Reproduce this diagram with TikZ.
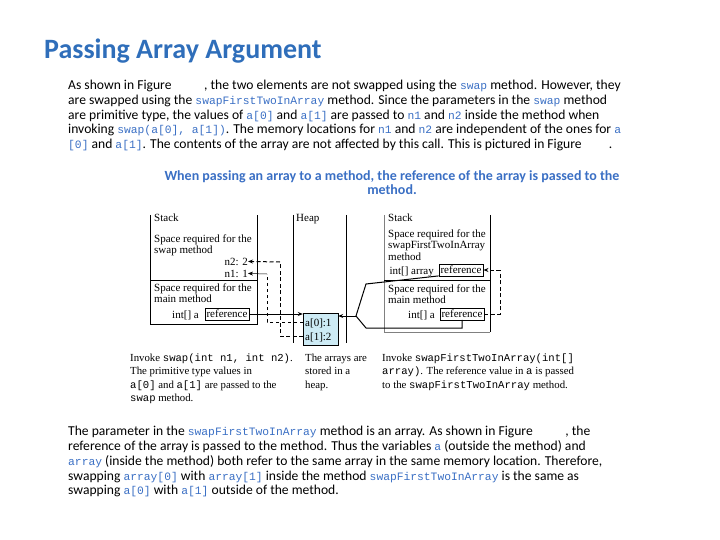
\documentclass[tikz,border=0pt]{standalone}
\usepackage{fontspec}
\usetikzlibrary{arrows.meta}
\setmainfont{Carlito}
\newfontfamily\serif{Liberation Serif}
\setmonofont{Liberation Mono}
\definecolor{titleblue}{HTML}{2F6EBA}
\definecolor{codeblue}{HTML}{3A6FC4}
\definecolor{heapfill}{HTML}{CDEBF5}
\newcommand{\cd}[1]{\textcolor{codeblue}{\ttfamily\fontsize{11.3}{13}\selectfont #1}}
\newcommand{\mn}[1]{{\ttfamily\fontsize{10.6}{12}\selectfont #1}}
\begin{document}
\begin{tikzpicture}[x=1pt,y=-1pt,
  para/.style={anchor=base west,inner sep=0,font=\fontsize{13.6}{15}\selectfont},
  dg/.style={anchor=base west,inner sep=0,font=\serif\fontsize{11}{12}\selectfont},
  captext/.style={anchor=base west,inner sep=0,font=\serif\fontsize{10.8}{12}\selectfont},
  refbox/.style={draw,inner sep=1.8pt,font=\serif\fontsize{11}{12}\selectfont},
  wall/.style={line width=0.6pt},
  dsh/.style={dashed,line width=1pt,dash pattern=on 4pt off 2.5pt},
  arr/.style={-{Stealth[length=5pt,width=4pt]}}]
\useasboundingbox (0,0) rectangle (720,540);
\node[anchor=base west,inner sep=0,font=\bfseries\fontsize{28}{30}\selectfont,text=titleblue] (title) at (44,59) {Passing Array Argument};
% top paragraph
\node[para] (p1) at (68,90) {As shown in Figure\hspace{2.4em}, the two elements are not swapped using the \cd{swap} method. However, they};
\node[para] (p2) at (68,105) {are swapped using the \cd{swapFirstTwoInArray} method. Since the parameters in the \cd{swap} method};
\node[para] (p3) at (68,120) {are primitive type, the values of \cd{a[0]} and \cd{a[1]} are passed to \cd{n1} and \cd{n2} inside the method when};
\node[para] (p4) at (68,134) {invoking \cd{swap(a[0], a[1])}. The memory locations for \cd{n1} and \cd{n2} are independent of the ones for \cd{a}};
\node[para] (p5) at (68,149) {\cd{[0]} and \cd{a[1]}. The contents of the array are not affected by this call. This is pictured in Figure\hspace{2em}.};
\node[anchor=base,inner sep=0,font=\bfseries\fontsize{14}{14}\selectfont,text=codeblue,align=center] (capt) at (392,195) {When passing an array to a method, the reference of the array is passed to the\\method.};
% left stack
\draw[wall] (150,215) -- (150,324) -- (257,324) -- (257,215);
\draw[wall] (150,280) -- (257,280);
\node[dg] (ls) at (154,222) {Stack};
\node[dg] (l1) at (154,243) {Space required for the};
\node[dg] (l2) at (154,254) {swap method};
\node[dg,anchor=base east] (n2) at (248,265) {n2: 2};
\node[dg,anchor=base east] (n1) at (248,277) {n1: 1};
\node[dg] (l3) at (154,291) {Space required for the};
\node[dg] (l4) at (154,302) {main method};
\node[refbox] (lref) at (227,314) {reference};
\node[dg,anchor=base east] (la) at (199,318) {int[] a};
% heap
\draw[wall] (293,215) -- (293,343);
\draw[wall] (346,215) -- (346,343);
\node[dg] (hp) at (296,222) {Heap};
\node[draw,fill=heapfill,minimum width=35pt,minimum height=32pt,inner sep=0] (hbox) at (320.5,329) {};
\node[dg] (a0) at (305,326) {a[0]:1};
\node[dg] (a1) at (305,340) {a[1]:2};
\coordinate (a0w) at (303,322);
\coordinate (a1w) at (303,336);
% right stack
\draw[wall,gray] (384,215) -- (384,332) -- (490,332);
\draw[wall] (490,215) -- (490,332);
\draw[wall] (384,280) -- (490,280);
\node[dg] (rs) at (388,222) {Stack};
\node[dg] (r1) at (388,237) {Space required for the};
\node[dg] (r2) at (388,248) {swapFirstTwoInArray};
\node[dg] (r3) at (388,260) {method};
\node[refbox] (rref1) at (461,270) {reference};
\node[dg,anchor=base east] (rarr) at (434,274) {int[] array};
\node[dg] (r4) at (388,292) {Space required for the};
\node[dg] (r5) at (388,303) {main method};
\node[refbox] (rref2) at (462,314) {reference};
\node[dg,anchor=base east] (ra) at (435,318) {int[] a};
% connectors
\draw[line width=1pt,arr] (lref.east) -- (hbox.west |- lref.east);
\draw[dsh] (a1w) -- (280,336) -- (280,262);
\draw[dsh,arr] (280,262) -- (n2.east);
\draw[dashed,line width=0.5pt] (a0w) -- (267,322) -- (267,274);
\draw[line width=0.5pt,arr] (267,274) -- (n1.east);
\coordinate (br) at (356,316);
\draw[line width=1pt,arr] (br) -- (hbox.east |- br);
\draw[line width=1pt] (rref1.south west) -- (366,284) -- (br) -- (366,328) -- (462,328) -- (rref2.south);
\draw[dsh] (rref2.east) -- (500,314) -- (500,270);
\draw[dsh,arr] (500,270) -- (rref1.east);
% captions
\node[captext] (c1) at (130,361) {Invoke \mn{swap(int n1, int n2)}.};
\node[captext] (c2) at (130,374) {The primitive type values in};
\node[captext] (c3) at (130,388) {\mn{a[0]} and \mn{a[1]} are passed to the};
\node[captext] (c4) at (130,401) {\mn{swap} method.};
\node[captext] (h1) at (305,361) {The arrays are};
\node[captext] (h2) at (305,374) {stored in a};
\node[captext] (h3) at (305,388) {heap.};
\node[captext] (d1) at (382,361) {Invoke \mn{swapFirstTwoInArray(int[]}};
\node[captext] (d2) at (382,374) {\mn{array)}. The reference value in \mn{a} is passed};
\node[captext] (d3) at (382,388) {to the \mn{swapFirstTwoInArray} method.};
% bottom paragraph
\node[para] (b1) at (68,435) {The parameter in the \cd{swapFirstTwoInArray} method is an array. As shown in Figure\hspace{2.4em}, the};
\node[para] (b2) at (68,450) {reference of the array is passed to the method. Thus the variables \cd{a} (outside the method) and};
\node[para] (b3) at (68,465) {\cd{array} (inside the method) both refer to the same array in the same memory location. Therefore,};
\node[para] (b4) at (68,480) {swapping \cd{array[0]} with \cd{array[1]} inside the method \cd{swapFirstTwoInArray} is the same as};
\node[para] (b5) at (68,494) {swapping \cd{a[0]} with \cd{a[1]} outside of the method.};
\end{tikzpicture}
\end{document}
